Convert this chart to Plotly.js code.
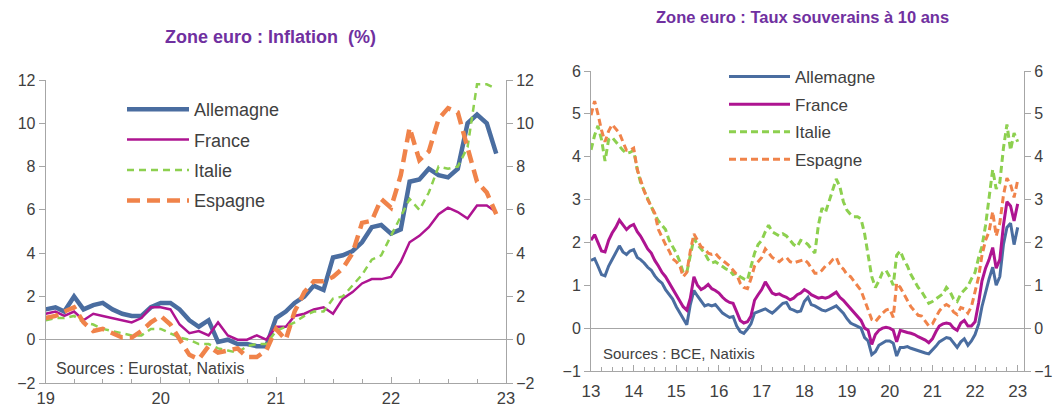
<!DOCTYPE html>
<html><head><meta charset="utf-8">
<script src="https://cdn.plot.ly/plotly-3.0.1.min.js"></script>
<style>html,body{margin:0;padding:0;background:#fff}#chart{width:1053px;height:410px}</style>
</head><body><div id="chart"></div>
<script>
// ---------- Inflation (%), monthly Jan 2019 - Dec 2022 ----------
const inflStart = [2019, 1];
const inflAllemagne = [1.4,1.5,1.3,2.0,1.4,1.6,1.7,1.4,1.2,1.1,1.1,1.5,
  1.7,1.7,1.4,0.9,0.6,0.9,-0.1,0.0,-0.2,-0.2,-0.3,-0.3,
  1.0,1.3,1.7,2.0,2.5,2.3,3.8,3.9,4.1,4.5,5.2,5.3,
  4.9,5.1,7.3,7.4,7.9,7.6,7.5,7.9,10.0,10.4,10.0,8.6];
const inflFrance = [1.2,1.3,1.1,1.3,0.9,1.2,1.1,1.0,0.9,0.8,1.0,1.5,
  1.5,1.4,0.7,0.3,0.4,0.2,0.8,0.2,0.0,0.0,0.2,0.0,
  0.6,0.6,1.1,1.2,1.4,1.5,1.2,1.9,2.2,2.6,2.8,2.8,
  2.9,3.6,4.5,4.8,5.2,5.8,6.1,5.9,5.6,6.2,6.2,5.9];
const inflItalie = [0.9,1.0,1.0,1.1,0.8,0.7,0.5,0.4,0.3,0.2,0.2,0.5,
  0.5,0.3,0.1,0.0,-0.2,-0.2,-0.4,-0.5,-0.6,-0.3,-0.2,-0.2,
  0.4,0.6,0.8,1.1,1.3,1.3,1.9,2.0,2.5,3.0,3.7,3.9,
  4.8,5.7,6.5,6.0,6.8,8.0,7.9,8.0,8.9,11.8,11.8,11.6];
const inflEspagne = [1.0,1.1,1.3,1.5,0.8,0.4,0.5,0.3,0.1,0.1,0.4,0.8,
  1.1,0.7,0.0,-0.7,-0.9,-0.3,-0.6,-0.5,-0.4,-0.8,-0.8,-0.5,
  0.5,0.0,1.3,2.2,2.7,2.7,2.9,3.3,4.0,5.4,5.5,6.5,
  6.1,7.6,9.8,8.3,8.7,10.2,10.7,10.5,8.9,7.3,6.8,5.8];

// ---------- 10-year sovereign yields (%), monthly Jan 2013 - Jan 2023 ----------
const ratesStart = [2013, 1];
const tauxAllemagne = [1.58,1.62,1.45,1.25,1.22,1.45,1.60,1.75,1.92,1.78,1.72,1.80,
  1.83,1.65,1.60,1.52,1.42,1.35,1.22,1.12,1.05,0.90,0.80,0.68,
  0.50,0.35,0.22,0.08,0.55,0.88,0.75,0.62,0.52,0.55,0.52,0.55,
  0.45,0.35,0.30,0.25,0.27,0.05,-0.08,-0.12,-0.02,0.10,0.35,0.38,
  0.42,0.45,0.40,0.35,0.42,0.50,0.58,0.60,0.45,0.42,0.38,0.40,
  0.62,0.72,0.55,0.52,0.48,0.42,0.40,0.45,0.48,0.52,0.42,0.35,
  0.22,0.12,0.08,0.03,0.00,-0.22,-0.30,-0.62,-0.55,-0.40,-0.35,-0.30,
  -0.30,-0.35,-0.65,-0.45,-0.45,-0.43,-0.47,-0.50,-0.52,-0.56,-0.58,-0.60,
  -0.52,-0.42,-0.32,-0.27,-0.22,-0.24,-0.35,-0.45,-0.32,-0.25,-0.40,-0.30,
  -0.15,0.10,0.50,0.85,1.15,1.42,1.00,1.20,1.95,2.35,2.45,1.95,
  2.35];
const tauxFrance = [2.05,2.18,2.00,1.80,1.78,2.05,2.22,2.35,2.52,2.40,2.30,2.38,
  2.42,2.25,2.15,2.00,1.85,1.75,1.58,1.45,1.30,1.20,1.05,0.90,
  0.75,0.62,0.50,0.42,0.70,1.20,1.00,0.90,0.95,1.02,0.92,0.88,
  0.82,0.72,0.65,0.60,0.58,0.38,0.18,0.12,0.15,0.28,0.65,0.78,
  0.90,1.08,0.95,0.82,0.78,0.80,0.75,0.72,0.66,0.70,0.78,0.82,
  0.90,0.85,0.78,0.73,0.70,0.72,0.70,0.73,0.78,0.84,0.72,0.65,
  0.55,0.45,0.35,0.25,0.18,0.00,-0.05,-0.38,-0.15,-0.05,0.00,0.02,
  0.00,-0.05,-0.32,-0.05,-0.08,-0.10,-0.12,-0.15,-0.20,-0.24,-0.28,-0.34,
  -0.25,-0.08,0.05,0.10,0.12,0.10,0.00,-0.05,0.12,0.18,0.05,0.05,
  0.15,0.60,1.10,1.40,1.60,1.88,1.40,1.60,2.40,2.95,2.85,2.50,
  2.90];
const tauxItalie = [4.16,4.50,4.72,4.40,3.90,4.40,4.45,4.35,4.25,4.15,4.08,4.10,
  4.15,3.70,3.40,3.20,3.05,2.85,2.65,2.50,2.40,2.30,2.05,1.90,
  1.75,1.55,1.30,1.30,1.70,2.10,1.95,1.85,1.75,1.60,1.52,1.55,
  1.50,1.44,1.38,1.35,1.25,1.28,1.20,1.15,1.12,1.40,1.75,1.95,
  2.05,2.25,2.40,2.25,2.20,2.15,2.20,2.15,2.05,1.95,1.90,2.05,
  2.02,1.95,1.85,1.75,2.40,2.80,2.70,2.95,3.20,3.48,3.30,2.95,
  2.75,2.65,2.60,2.60,2.55,2.20,1.70,1.20,0.95,1.10,1.30,1.35,
  1.20,1.00,1.70,1.80,1.60,1.45,1.25,1.10,0.95,0.85,0.70,0.58,
  0.62,0.68,0.72,0.80,0.95,0.85,0.68,0.62,0.80,0.90,0.98,1.15,
  1.30,1.65,1.90,2.40,3.10,3.70,3.25,3.40,4.20,4.75,4.15,4.55,
  4.35];
const tauxEspagne = [4.97,5.30,5.00,4.62,4.35,4.60,4.75,4.65,4.55,4.35,4.15,4.15,
  4.20,3.70,3.45,3.20,3.00,2.85,2.68,2.30,2.10,1.95,1.80,1.62,
  1.55,1.45,1.20,1.30,1.80,2.20,2.05,1.90,1.85,1.75,1.72,1.75,
  1.65,1.58,1.50,1.45,1.35,1.25,1.05,0.95,0.92,1.15,1.45,1.55,
  1.65,1.85,1.75,1.65,1.60,1.55,1.62,1.65,1.55,1.52,1.55,1.58,
  1.60,1.52,1.40,1.28,1.28,1.35,1.45,1.50,1.60,1.65,1.45,1.38,
  1.25,1.20,1.10,1.00,0.88,0.65,0.45,0.20,0.15,0.25,0.35,0.42,
  0.45,0.25,1.05,0.95,0.80,0.65,0.50,0.40,0.30,0.28,0.15,0.05,
  0.10,0.27,0.40,0.50,0.55,0.50,0.38,0.32,0.48,0.45,0.35,0.50,
  0.85,1.20,1.70,2.05,2.25,2.72,2.15,2.45,3.10,3.50,3.35,3.05,
  3.45];

// month dates (x positions) for each monthly series
function monthDates(start, n) {
  const out = [];
  for (let i = 0; i < n; i++) {
    const y = start[0] + Math.floor((start[1] - 1 + i) / 12);
    const m = ((start[1] - 1 + i) % 12) + 1;
    out.push(y + '-' + String(m).padStart(2, '0') + '-01');
  }
  return out;
}
const inflDates = monthDates(inflStart, inflAllemagne.length);
const ratesDates = monthDates(ratesStart, tauxAllemagne.length);

const C = {de: '#4A6DA0', fr: '#AE1491', it: '#8DD04F', es: '#F0834A'};
const FONT = 'Liberation Sans, Arial, sans-serif';
const TXT = '#404040';
const AX = '#A6A6A6';

function line(x, y, name, xa, ya, lg, ln) {
  return {x: x, y: y, name: name, type: 'scatter', mode: 'lines', xaxis: xa, yaxis: ya,
    legend: lg, legendgroup: lg + name, line: ln, hoverinfo: 'skip'};
}
// invisible carriers so that the mirrored right-hand axes are drawn
function carrier(x, y, xa, ya) {
  return {x: x, y: y, type: 'scatter', mode: 'lines', xaxis: xa, yaxis: ya, showlegend: false,
    hoverinfo: 'skip', line: {color: 'rgba(0,0,0,0)', width: 0}};
}

const traces = [
  carrier(inflDates, inflAllemagne, 'x', 'y2'),
  carrier(ratesDates, tauxAllemagne, 'x2', 'y4'),
  line(inflDates, inflAllemagne, 'Allemagne', 'x', 'y', 'legend', {color: C.de, width: 4.5}),
  line(inflDates, inflFrance, 'France', 'x', 'y', 'legend', {color: C.fr, width: 2.5}),
  line(inflDates, inflItalie, 'Italie', 'x', 'y', 'legend', {color: C.it, width: 2.5, dash: '7px,5px'}),
  line(inflDates, inflEspagne, 'Espagne', 'x', 'y', 'legend', {color: C.es, width: 4.5, dash: '13px,7px'}),
  line(ratesDates, tauxAllemagne, 'Allemagne', 'x2', 'y3', 'legend2', {color: C.de, width: 3}),
  line(ratesDates, tauxFrance, 'France', 'x2', 'y3', 'legend2', {color: C.fr, width: 3}),
  line(ratesDates, tauxItalie, 'Italie', 'x2', 'y3', 'legend2', {color: C.it, width: 3, dash: '7px,4px'}),
  line(ratesDates, tauxEspagne, 'Espagne', 'x2', 'y3', 'legend2', {color: C.es, width: 3, dash: '7px,4px'})
];

const W = 1053, H = 410;
const px = v => v / W, py = v => 1 - v / H;

const yCommon = {showgrid: false, showline: true, linecolor: AX, linewidth: 1, ticks: 'outside', ticklen: 6, tickcolor: AX,
  tickfont: {family: FONT, size: 16, color: TXT}, zeroline: true, zerolinecolor: AX, zerolinewidth: 1, fixedrange: true};
const xCommon = {type: 'date', showgrid: false, showline: true, linecolor: AX, linewidth: 1, ticks: 'inside', ticklen: 6, tickcolor: AX,
  dtick: 'M12', tickformat: '%y', tickfont: {family: FONT, size: 17, color: TXT}, zeroline: false, ticklabelstandoff: 5,
  minor: {dtick: 'M3', ticks: 'inside', ticklen: 4, tickcolor: AX, showgrid: false}};

const layout = {
  width: W, height: H, margin: {l: 0, r: 0, t: 0, b: 0}, paper_bgcolor: '#fff', plot_bgcolor: 'rgba(0,0,0,0)',
  font: {family: FONT, color: TXT},
  xaxis: Object.assign({}, xCommon, {domain: [px(45.7), px(506)], anchor: 'y', range: ['2019-01-01', '2023-01-01'],
    tick0: '2019-01-01', ticklabelstandoff: 0, tickfont: {family: FONT, size: 16.5, color: TXT}}),
  yaxis: Object.assign({}, yCommon, {domain: [py(383), py(80)], anchor: 'x', range: [-2, 12], dtick: 2}),
  yaxis2: Object.assign({}, yCommon, {overlaying: 'y', side: 'right', anchor: 'x', range: [-2, 12], dtick: 2, zeroline: false}),
  xaxis2: Object.assign({}, xCommon, {domain: [px(591), px(1024)], anchor: 'y3', range: ['2013-01-01', '2023-02-24'],
    tick0: '2013-01-01'}),
  yaxis3: Object.assign({}, yCommon, {domain: [py(371), py(71)], anchor: 'x2', range: [-1, 6], dtick: 1}),
  yaxis4: Object.assign({}, yCommon, {overlaying: 'y3', side: 'right', anchor: 'x2', range: [-1, 6], dtick: 1, zeroline: false}),
  legend: {x: px(122), y: py(91), xanchor: 'left', yanchor: 'top', bgcolor: 'rgba(0,0,0,0)', itemwidth: 62,
    font: {family: FONT, size: 18, color: TXT}, traceorder: 'grouped', tracegroupgap: 4},
  legend2: {x: px(724), y: py(59), xanchor: 'left', yanchor: 'top', bgcolor: 'rgba(0,0,0,0)', itemwidth: 61,
    font: {family: FONT, size: 17, color: TXT}, traceorder: 'grouped', tracegroupgap: 2.5},
  annotations: [
    {text: '<b>Zone euro : Inflation  (%)</b>', xref: 'paper', yref: 'paper', x: px(270), y: py(37), showarrow: false,
     xanchor: 'center', yanchor: 'middle', font: {family: FONT, size: 18, color: '#7030A0'}},
    {text: '<b>Zone euro : Taux souverains à 10 ans</b>', xref: 'paper', yref: 'paper', x: px(802), y: py(17), showarrow: false,
     xanchor: 'center', yanchor: 'middle', font: {family: FONT, size: 16.5, color: '#7030A0'}},
    {text: 'Sources : Eurostat, Natixis', xref: 'paper', yref: 'paper', x: px(54), y: py(368), showarrow: false,
     xanchor: 'left', yanchor: 'middle', font: {family: FONT, size: 16, color: TXT}},
    {text: 'Sources : BCE, Natixis', xref: 'paper', yref: 'paper', x: px(601), y: py(353), showarrow: false,
     xanchor: 'left', yanchor: 'middle', font: {family: FONT, size: 15, color: TXT}}
  ]
};

Plotly.newPlot('chart', traces, layout, {displayModeBar: false, staticPlot: true});
</script></body></html>
